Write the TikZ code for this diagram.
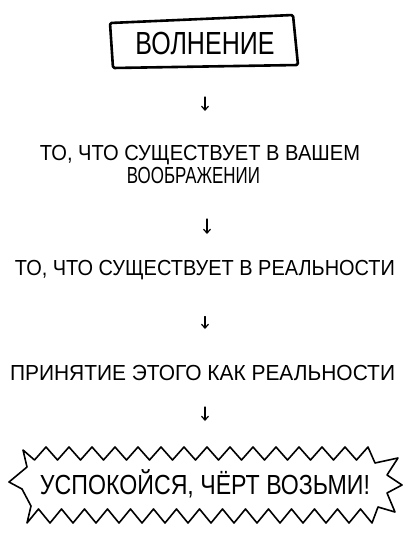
\documentclass[tikz,border=0pt]{standalone}
\usepackage{fontspec}
\setmainfont{Liberation Sans}
\usepackage{graphicx}
\usetikzlibrary{calc,arrows.meta}
\newcommand{\fitt}[3]{\resizebox{#1}{#2}{\raisebox{0pt}[\fontcharht\font`\T][0pt]{#3}}}
\tikzset{
  lbl/.style={inner sep=0pt, outer sep=0pt},
  arr/.style={line width=1.3pt, line cap=round, -{Straight Barb[length=4pt,width=7pt,line width=1.2pt]}},
  boxline/.style={line width=2.6pt, line join=round, rounded corners=1.5pt},
  burst/.style={line width=1.6pt, line join=round}
}
\begin{document}
\begin{tikzpicture}[x=1pt,y=-1pt]
\useasboundingbox (0,0) rectangle (420,541);
% top box
\node[lbl] (w0) at (205,43) {\fitt{139pt}{22pt}{ВОЛНЕНИЕ}};
\draw[boxline] (110,23) -- (293,15) -- (298,65) -- (113,68) -- cycle;
% texts
\node[lbl] (t1a) at (200,152.5) {\fitt{320pt}{15pt}{ТО, ЧТО СУЩЕСТВУЕТ В ВАШЕМ}};
\node[lbl] (t1b) at (193.5,175) {\fitt{133pt}{16pt}{ВООБРАЖЕНИИ}};
\node[lbl] (t2) at (205,267.5) {\fitt{380pt}{15pt}{ТО, ЧТО СУЩЕСТВУЕТ В РЕАЛЬНОСТИ}};
\node[lbl] (t3) at (202.5,372.5) {\fitt{385pt}{15pt}{ПРИНЯТИЕ ЭТОГО КАК РЕАЛЬНОСТИ}};
\node[lbl] (f) at (205,484.5) {\fitt{330pt}{19pt}{УСПОКОЙСЯ, ЧЁРТ ВОЗЬМИ!}};
% arrows
\draw[arr] ($(w0.south)+(0,43)$) -- ($(t1a.north -| w0.south)+(0,-34)$);
\draw[arr] ($(t1b.south -| t2.north)+(2,36)$) -- ($(t2.north)+(2,-26)$);
\draw[arr] ($(t2.south)+(0,41.5)$) -- ($(t3.north -| t2.north)+(0,-36)$);
\draw[arr] ($(t3.south -| f.north)+(0,27)$) -- ($(f.north)+(0,-54)$);
% starburst
\draw[burst]
  (23,450)
  \foreach \i in {0,...,14} { -- ({34.5+23*\i},460) -- ({46+23*\i},447) }
  -- (375,463) -- (398,458) -- (387,475) -- (402,485) -- (387,493)
  -- (395,512) -- (378,507) -- (372,523)
  \foreach \i in {0,...,14} { -- ({360.5-23*\i},509) -- ({349-23*\i},523) }
  -- (31,506) -- (22,489) -- (9,482) -- (27,467) -- cycle;
\end{tikzpicture}
\end{document}
